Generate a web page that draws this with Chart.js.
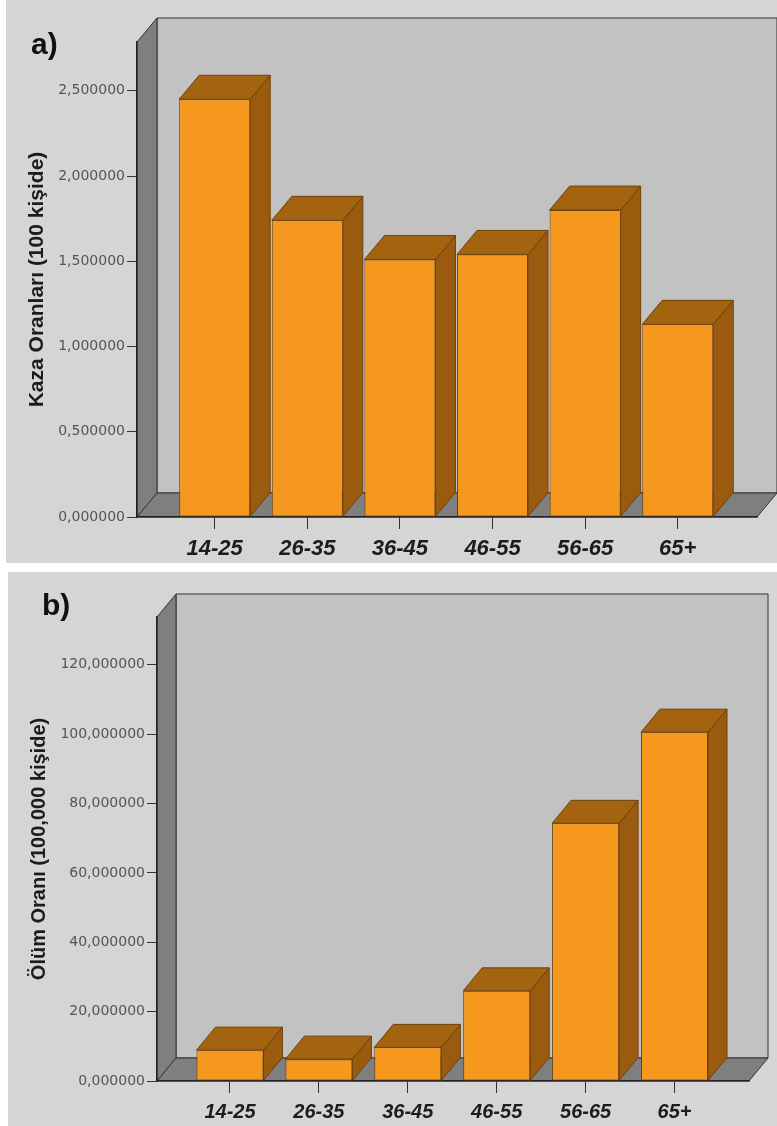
<!DOCTYPE html>
<html>
<head>
<meta charset="utf-8">
<script src="https://cdn.jsdelivr.net/npm/chart.js@4.4.1/dist/chart.umd.min.js"></script>
<style>
  html, body { margin: 0; padding: 0; background: #ffffff; }
  body { width: 777px; height: 1126px; position: relative; overflow: hidden; }
  .panel { position: absolute; background: #d5d5d5; }
  .tag { position: absolute; font: bold 30px 'Liberation Sans', Arial, sans-serif; color: #111; line-height: 1; }
  canvas { position: absolute; left: 0; }
</style>
</head>
<body>
<div class="panel" style="left:6px;top:0;width:771px;height:563px"></div>
<div class="panel" style="left:8px;top:572px;width:769px;height:554px"></div>
<canvas id="chartA" width="777" height="565" style="top:0"></canvas>
<canvas id="chartB" width="777" height="556" style="top:570px"></canvas>
<div class="tag" style="left:31px;top:29px">a)</div>
<div class="tag" style="left:42px;top:590px">b)</div>
<script>
// Age groups and rates per group
const ageGroups = ['14-25', '26-35', '36-45', '46-55', '56-65', '65+'];
const accidentRates = [2.45, 1.74, 1.51, 1.54, 1.80, 1.13];   // per 100 people
const deathRates = [8.9, 6.3, 9.7, 26.0, 74.3, 100.6];        // per 100,000 people
const accidentTicks = [0, 0.5, 1, 1.5, 2, 2.5];
const deathTicks = [0, 20, 40, 60, 80, 100, 120];

const FRONT = '#f7981e';
const TOP = '#a3630f';
const SIDE = '#9a5b0e';
const BAR_EDGE = '#6e420c';
const WALL = '#c2c2c2';
const WALL_DARK = '#7f7f7f';
const WALL_EDGE = '#333333';

function poly(ctx, pts, fill, stroke) {
  ctx.beginPath();
  ctx.moveTo(pts[0][0], pts[0][1]);
  for (let i = 1; i < pts.length; i++) ctx.lineTo(pts[i][0], pts[i][1]);
  ctx.closePath();
  ctx.fillStyle = fill;
  ctx.fill();
  ctx.strokeStyle = stroke;
  ctx.lineWidth = 1;
  ctx.stroke();
}

// Draws the 3D box (back wall, left wall, floor) and the top/side faces of the bars
const box3d = {
  id: 'box3d',
  beforeDraw(chart, args, opts) {
    const { ctx, chartArea: { left, top, right, bottom } } = chart;
    const dx = opts.dx, dy = opts.dy;
    ctx.save();
    poly(ctx, [[left + dx, top - dy], [right + dx, top - dy], [right + dx, bottom - dy], [left + dx, bottom - dy]], WALL, WALL_EDGE);
    poly(ctx, [[left, top], [left + dx, top - dy], [left + dx, bottom - dy], [left, bottom]], WALL_DARK, WALL_EDGE);
    poly(ctx, [[left, bottom], [left + dx, bottom - dy], [right + dx, bottom - dy], [right, bottom]], WALL_DARK, WALL_EDGE);
    ctx.restore();
  },
  afterDatasetsDraw(chart, args, opts) {
    const ctx = chart.ctx;
    const dx = opts.dx, dy = opts.dy;
    ctx.save();
    chart.getDatasetMeta(0).data.forEach(bar => {
      const { x, y, base, width } = bar.getProps(['x', 'y', 'base', 'width'], true);
      const l = x - width / 2, r = x + width / 2;
      poly(ctx, [[r, y], [r + dx, y - dy], [r + dx, base - dy], [r, base]], SIDE, BAR_EDGE);
      poly(ctx, [[l, y], [l + dx, y - dy], [r + dx, y - dy], [r, y]], TOP, BAR_EDGE);
    });
    ctx.restore();
  }
};

function makeChart(id, values, yTicks, g) {
  return new Chart(document.getElementById(id), {
    type: 'bar',
    data: {
      datasets: [{
        data: values.map((v, i) => ({ x: i, y: v })),
        backgroundColor: FRONT,
        borderColor: BAR_EDGE,
        borderWidth: 1,
        borderSkipped: false,
        barPercentage: g.barPct,
        categoryPercentage: 1
      }]
    },
    options: {
      responsive: false,
      animation: false,
      devicePixelRatio: 1,
      layout: { padding: { left: 0, top: g.top, right: g.right, bottom: 0 } },
      plugins: {
        legend: { display: false },
        tooltip: { enabled: false },
        box3d: { dx: g.dx, dy: g.dy }
      },
      scales: {
        x: {
          type: 'linear',
          offset: false,
          min: g.xMin,
          max: g.xMax,
          afterBuildTicks: s => { s.ticks = ageGroups.map((_, i) => ({ value: i })); },
          afterFit: s => { s.height = g.xHeight; },
          grid: { offset: false, drawOnChartArea: false, drawTicks: true, tickLength: 12, tickColor: '#333', color: '#333' },
          border: { display: true, color: '#222', width: 1.5 },
          ticks: {
            autoSkip: false,
            maxRotation: 0,
            padding: g.xPad,
            color: '#1c1c1c',
            font: { family: "'Liberation Sans', Arial, sans-serif", size: g.xFont, style: 'italic', weight: 'bold' },
            callback: v => ageGroups[v]
          }
        },
        y: {
          min: 0,
          max: g.yMax,
          afterBuildTicks: s => { s.ticks = yTicks.map(v => ({ value: v })); },
          afterFit: s => { s.width = g.yWidth; },
          grid: { drawOnChartArea: false, drawTicks: true, tickLength: 10, tickColor: '#333', color: '#333' },
          border: { display: true, color: '#222', width: 1.5 },
          ticks: {
            padding: 2,
            color: '#555',
            font: { family: "'DejaVu Sans', sans-serif", size: 14 },
            callback: v => v.toFixed(6).replace('.', ',')
          },
          title: {
            display: true,
            text: g.title,
            color: '#1c1c1c',
            font: { family: "'Liberation Sans', Arial, sans-serif", size: g.titleFont, weight: 'bold' },
            padding: { top: g.titlePad, bottom: 0 }
          }
        }
      }
    },
    plugins: [box3d]
  });
}

makeChart('chartA', accidentRates, accidentTicks, {
  top: 42, right: 20, yWidth: 137, xHeight: 48,
  yMax: 2.786, xMin: -0.839, xMax: 5.856, barPct: 0.767,
  dx: 20, dy: 24, xFont: 22, xPad: 7,
  title: 'Kaza Oranları (100 kişide)', titleFont: 21, titlePad: 25
});

makeChart('chartB', deathRates, deathTicks, {
  top: 47, right: 28, yWidth: 157, xHeight: 45,
  yMax: 133.8, xMin: -0.821, xMax: 5.838, barPct: 0.754,
  dx: 19, dy: 23, xFont: 20, xPad: 7,
  title: 'Ölüm Oranı (100,000 kişide)', titleFont: 20, titlePad: 27
});
</script>
</body>
</html>
